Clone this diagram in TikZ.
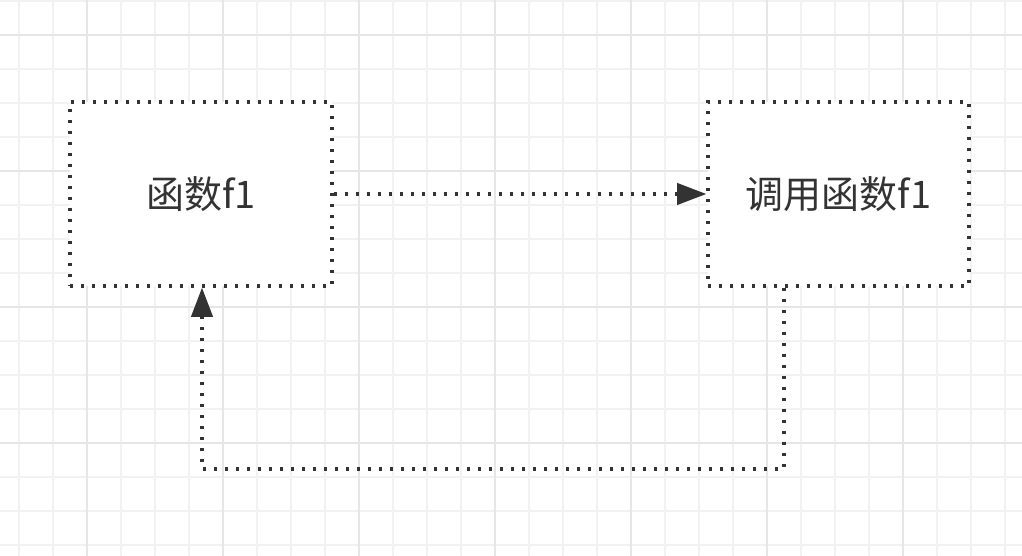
\documentclass[tikz,border=0pt]{standalone}
\usepackage{fontspec}
\setmainfont{Noto Sans CJK SC}
\usetikzlibrary{arrows.meta}

\definecolor{inkgray}{HTML}{333333}
\definecolor{minorgray}{HTML}{F2F2F2}
\definecolor{majorgray}{HTML}{E6E6E6}

\begin{document}
\begin{tikzpicture}[
        x=0.75pt, y=-0.75pt,
        minorgrid/.style={draw=minorgray, line width=0.8pt},
        majorgrid/.style={draw=majorgray, line width=1.1pt},
        funcbox/.style={rectangle, draw=inkgray, fill=white, line width=2.5pt,
            dash pattern=on 2.5pt off 5.75pt, text=inkgray,
            font=\fontsize{28.5}{34}\selectfont,
            minimum width=196.5pt, minimum height=138pt},
        callarrow/.style={-{Triangle[length=22pt, width=16pt]}, draw=inkgray,
            line width=2.5pt, dash pattern=on 2.5pt off 5.75pt}
    ]

    % Background grid
    \fill[white] (0,0) rectangle (1022,556);
    \useasboundingbox (0,0) rectangle (1022,556);
    \foreach \k in {0,...,29}
        \draw[minorgrid] (19+34*\k,0) -- (19+34*\k,556);
    \foreach \k in {0,...,16}
        \draw[minorgrid] (0,1+34*\k) -- (1022,1+34*\k);
    \foreach \k in {0,...,6}
        \draw[majorgrid] (87+136*\k,0) -- (87+136*\k,556);
    \foreach \k in {0,...,3}
        \draw[majorgrid] (0,35+136*\k) -- (1022,35+136*\k);

    % Define function boxes
    \node[funcbox] (func) at (201,194) {函数f1};
    \node[funcbox, minimum width=195.75pt] (call) at (838.5,194) {调用函数f1};

    % Corners of the return path
    \coordinate (back1) at (784,469);
    \coordinate (back2) at (202,469);

    % Draw calls
    \draw[callarrow] (func) -- (call);
    \draw[callarrow] (call.south -| back1) -- (back1) -- (back2) -- (func.south -| back2);

\end{tikzpicture}
\end{document}
